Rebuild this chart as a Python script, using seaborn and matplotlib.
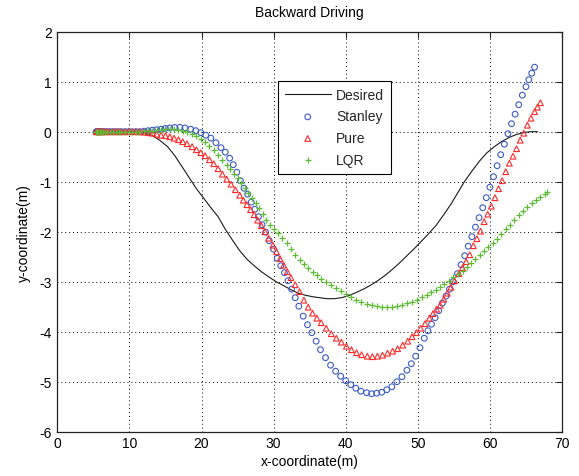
import matplotlib
matplotlib.use("Agg")
import matplotlib.pyplot as plt
import seaborn as sns

# ---------------- data ----------------
desired_x = [5.4, 6.2, 7.2, 8.2, 9.2, 10.2, 10.7, 11.2, 12.2, 13.2, 14.2, 15.3, 16.3, 17.3, 18.3,
             19.3, 20.3, 21.3, 22.3, 23.3, 24.3, 25.3, 26.3, 27.3, 28.3, 29.3, 30.35, 31.4, 32.4,
             33.4, 34.4, 35.4, 36.4, 37.4, 38.4, 39.4, 40.4, 41.4, 42.45, 43.45, 44.45, 45.5, 46.5,
             47.5, 48.5, 49.5, 50.5, 51.5, 52.5, 53.5, 54.55, 55.55, 56.55, 57.55, 58.6, 59.6, 60.6,
             61.6, 62.6, 63.6, 64.6, 65.6, 66.6]
desired_y = [0, 0, 0, 0, 0, 0, 0, -0.01, -0.03, -0.08, -0.17, -0.30, -0.48, -0.70, -0.92,
             -1.14, -1.33, -1.52, -1.70, -1.95, -2.17, -2.38, -2.55, -2.68, -2.80, -2.90, -3.00, -3.08, -3.16,
             -3.23, -3.27, -3.30, -3.32, -3.34, -3.34, -3.32, -3.28, -3.22, -3.15, -3.07, -2.98, -2.87, -2.75,
             -2.62, -2.48, -2.34, -2.19, -2.04, -1.88, -1.68, -1.46, -1.22, -0.98, -0.78, -0.58, -0.42, -0.30,
             -0.20, -0.12, -0.06, -0.02, 0.0, 0.0]

stanley_x = [5.4, 5.5, 5.6, 5.7, 5.9, 6.1, 6.3, 6.6, 6.9, 7.3, 7.7, 8.1, 8.5, 8.9, 9.4, 9.9, 10.4, 10.9,
             11.4, 12.0, 12.6, 13.2, 13.8, 14.4, 15.0, 15.6, 16.3, 17.0, 17.7, 18.5, 19.2, 19.9, 20.6,
             21.3, 22.0, 22.7, 23.3, 23.9, 24.4, 24.9, 25.4, 25.9, 26.4, 26.9, 27.4, 27.9, 28.4, 28.9,
             29.4, 30.0, 30.5, 31.0, 31.5, 32.0, 32.5, 33.0, 33.5, 34.1, 34.7, 35.3, 35.9, 36.5, 37.2,
             37.9, 38.6, 39.3, 40.0, 40.7, 41.4, 42.1, 42.9, 43.6, 44.3, 45.0, 45.7, 46.4, 47.1, 47.8,
             48.5, 49.1, 49.7, 50.3, 50.9, 51.4, 51.9, 52.4, 52.9, 53.4, 53.9, 54.4, 54.9, 55.5, 56.0,
             56.5, 57.0, 57.5, 58.0, 58.5, 59.0, 59.5, 60.0, 60.5, 61.0, 61.5, 62.0, 62.5, 63.0, 63.5,
             64.0, 64.5, 65.0, 65.4, 65.8, 66.2]
stanley_y = [0, 0, 0, 0, 0, 0, 0, 0, 0, 0, 0, 0, 0, 0, 0, 0, 0, 0,
             0.0, 0.01, 0.02, 0.03, 0.04, 0.05, 0.065, 0.075, 0.085, 0.088, 0.075, 0.05, 0.02, -0.02, -0.07,
             -0.13, -0.22, -0.32, -0.41, -0.53, -0.66, -0.81, -0.98, -1.13, -1.25, -1.41, -1.55, -1.70, -1.86, -2.01,
             -2.18, -2.35, -2.53, -2.68, -2.82, -2.98, -3.15, -3.32, -3.49, -3.69, -3.86, -4.02, -4.19, -4.36, -4.52,
             -4.67, -4.79, -4.89, -4.98, -5.06, -5.13, -5.19, -5.22, -5.24, -5.23, -5.21, -5.16, -5.10, -5.00, -4.90,
             -4.77, -4.64, -4.49, -4.32, -4.13, -3.98, -3.85, -3.72, -3.58, -3.43, -3.29, -3.15, -3.00, -2.84, -2.66,
             -2.48, -2.29, -2.10, -1.91, -1.72, -1.52, -1.32, -1.11, -0.90, -0.68, -0.46, -0.25, -0.04, 0.16, 0.35,
             0.54, 0.73, 0.90, 1.04, 1.17, 1.29]

pure_x = [5.4, 5.5, 5.6, 5.7, 5.9, 6.1, 6.3, 6.6, 6.9, 7.3, 7.7, 8.1, 8.5, 8.9, 9.4, 9.9, 10.4, 10.9,
          11.4, 12.0, 12.6, 13.2, 13.8, 14.4, 15.0, 15.6, 16.2, 16.8, 17.4, 18.0, 18.7, 19.3, 19.9,
          20.5, 21.1, 21.7, 22.3, 22.9, 23.5, 24.1, 24.7, 25.3, 25.8, 26.3, 26.8, 27.3, 27.8, 28.3,
          28.8, 29.3, 29.9, 30.4, 30.9, 31.4, 31.9, 32.4, 33.0, 33.6, 34.2, 34.8, 35.4, 36.0, 36.6,
          37.3, 38.0, 38.7, 39.4, 40.1, 40.8, 41.5, 42.2, 43.0, 43.7, 44.4, 45.1, 45.8, 46.5, 47.2,
          47.9, 48.6, 49.2, 49.8, 50.4, 51.0, 51.6, 52.1, 52.6, 53.1, 53.6, 54.1, 54.6, 55.1, 55.7,
          56.2, 56.7, 57.2, 57.7, 58.2, 58.7, 59.2, 59.7, 60.2, 60.7, 61.2, 61.7, 62.2, 62.7, 63.2,
          63.7, 64.2, 64.7, 65.2, 65.7, 66.2, 66.6, 67.0]
pure_y = [0, 0, 0, 0, 0, 0, 0, 0, 0, 0, 0, 0, 0, 0, 0, 0, 0, 0,
          0.0, -0.01, -0.02, -0.03, -0.05, -0.07, -0.08, -0.10, -0.13, -0.16, -0.20, -0.24, -0.30, -0.36, -0.42,
          -0.48, -0.56, -0.64, -0.74, -0.85, -0.95, -1.05, -1.16, -1.27, -1.37, -1.46, -1.56, -1.66, -1.77, -1.88,
          -2.00, -2.13, -2.27, -2.40, -2.54, -2.67, -2.80, -2.92, -3.06, -3.20, -3.37, -3.51, -3.63, -3.73, -3.82,
          -3.93, -4.04, -4.13, -4.21, -4.29, -4.36, -4.42, -4.46, -4.49, -4.50, -4.49, -4.47, -4.43, -4.39, -4.34,
          -4.27, -4.19, -4.10, -4.02, -3.93, -3.84, -3.73, -3.64, -3.55, -3.47, -3.35, -3.23, -3.11, -2.98, -2.84,
          -2.72, -2.60, -2.46, -2.28, -2.14, -1.99, -1.80, -1.65, -1.49, -1.32, -1.14, -0.98, -0.80, -0.63, -0.49,
          -0.34, -0.17, -0.03, 0.13, 0.27, 0.40, 0.49, 0.58]

lqr_x = [5.4, 5.5, 5.6, 5.7, 5.9, 6.1, 6.3, 6.6, 6.9, 7.3, 7.7, 8.1, 8.5, 8.9, 9.4, 9.9, 10.4, 10.9,
         11.4, 12.0, 12.6, 13.2, 13.8, 14.4, 15.0, 15.6, 16.2, 16.8, 17.4, 18.0, 18.7, 19.3, 19.9,
         20.5, 21.1, 21.7, 22.3, 22.9, 23.5, 24.0, 24.5, 25.0, 25.5, 26.0, 26.5, 27.0, 27.5, 28.0,
         28.5, 29.0, 29.5, 30.1, 30.6, 31.2, 31.8, 32.4, 33.0, 33.6, 34.2, 34.8, 35.4, 36.0, 36.6,
         37.2, 37.9, 38.6, 39.3, 40.0, 40.7, 41.4, 42.1, 42.9, 43.6, 44.3, 45.0, 45.7, 46.4, 47.1,
         47.8, 48.5, 49.2, 49.9, 50.6, 51.3, 51.9, 52.5, 53.1, 53.7, 54.3, 54.9, 55.6, 56.2, 56.8,
         57.4, 58.0, 58.6, 59.2, 59.8, 60.4, 61.0, 61.6, 62.2, 62.8, 63.4, 64.0, 64.6, 65.2, 65.8,
         66.4, 67.0, 67.6, 67.9]
lqr_y = [0, 0, 0, 0, 0, 0, 0, 0, 0, 0, 0, 0, 0, 0, 0, 0, 0, 0,
         0.0, 0.01, 0.01, 0.02, 0.03, 0.04, 0.05, 0.05, 0.05, 0.04, 0.02, 0.0, -0.04, -0.09, -0.15,
         -0.21, -0.29, -0.37, -0.46, -0.56, -0.66, -0.75, -0.84, -0.93, -1.02, -1.12, -1.22, -1.32, -1.42, -1.53,
         -1.64, -1.76, -1.86, -1.94, -2.02, -2.12, -2.23, -2.34, -2.46, -2.56, -2.65, -2.73, -2.80, -2.87, -2.94,
         -3.00, -3.06, -3.12, -3.18, -3.25, -3.31, -3.36, -3.41, -3.45, -3.47, -3.49, -3.50, -3.50, -3.50, -3.48,
         -3.46, -3.43, -3.40, -3.36, -3.31, -3.26, -3.21, -3.16, -3.10, -3.04, -2.98, -2.91, -2.85, -2.78, -2.70,
         -2.62, -2.54, -2.46, -2.38, -2.30, -2.22, -2.14, -2.05, -1.95, -1.86, -1.76, -1.67, -1.58, -1.50, -1.43,
         -1.36, -1.30, -1.24, -1.21]

series_labels = ["Desired", "Stanley", "Pure", "LQR"]
x_ticks = [0, 10, 20, 30, 40, 50, 60, 70]
y_ticks = [-6, -5, -4, -3, -2, -1, 0, 1, 2]

# ---------------- style ----------------
sns.set_theme(style="white")
plt.rcParams["font.family"] = ["Liberation Sans", "DejaVu Sans"]
plt.rcParams["axes.unicode_minus"] = False

BLUE = "#3a5cc4"
RED = "#ff2a2a"
GREEN = "#5cbc34"

fig = plt.figure(figsize=(5.79, 4.77), dpi=100)
fig.patch.set_facecolor("white")
ax = fig.add_axes([57.3 / 579, 1 - 432.7 / 477, (562.0 - 57.3) / 579, 400.0 / 477])

sns.lineplot(x=desired_x, y=desired_y, ax=ax, color="#1a1a1a", linewidth=0.8,
             sort=False, estimator=None, label=series_labels[0])
sns.scatterplot(x=stanley_x, y=stanley_y, ax=ax, marker="o", s=17, color=BLUE,
                facecolor="none", edgecolor=BLUE, linewidth=0.8, label=series_labels[1], zorder=3)
sns.scatterplot(x=pure_x, y=pure_y, ax=ax, marker="^", s=17, color=RED,
                facecolor="none", edgecolor=RED, linewidth=0.8, label=series_labels[2], zorder=3)
sns.scatterplot(x=lqr_x, y=lqr_y, ax=ax, marker="+", s=22, color=GREEN,
                edgecolor=GREEN, linewidth=0.9, label=series_labels[3], zorder=3)

ax.set_xlim(0, 70)
ax.set_ylim(-6, 2)
ax.set_xticks(x_ticks)
ax.set_yticks(y_ticks)
ax.set_xticklabels([str(t) for t in x_ticks])
ax.set_yticklabels([str(t) for t in y_ticks])

ax.grid(True, color="black", linestyle=(0, (1, 3)), linewidth=0.7)
ax.set_axisbelow(True)
for sp in ax.spines.values():
    sp.set_color("#222222")
    sp.set_linewidth(0.9)
    sp.set_visible(True)

ax.tick_params(axis="both", direction="in", length=4, width=0.8, color="#222222",
               top=True, right=True, labelsize=10, labelcolor="black")
ax.tick_params(axis="x", pad=3)
ax.tick_params(axis="y", pad=4)

ax.set_title("Backward Driving", fontsize=10, pad=11, color="black")
ax.set_xlabel("x-coordinate(m)", fontsize=10, labelpad=3, color="black")
ax.set_ylabel("y-coordinate(m)", fontsize=10, labelpad=6, color="black")

leg = ax.legend(loc="upper left", bbox_to_anchor=(0.437, 0.877), frameon=True, fancybox=False,
                edgecolor="black", framealpha=1, fontsize=10, handlelength=3.3,
                handletextpad=0.4, labelspacing=0.55, borderpad=0.5, borderaxespad=0)
leg.get_frame().set_linewidth(0.8)

fig.savefig("out.png", dpi=100, facecolor="white")
